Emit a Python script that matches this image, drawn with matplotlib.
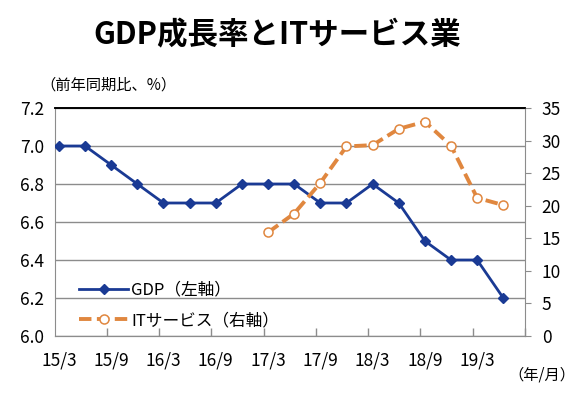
import matplotlib
matplotlib.use("Agg")
import matplotlib.pyplot as plt
import numpy as np

plt.rcParams['font.family'] = ['Noto Sans CJK JP', 'DejaVu Sans']

periods = ["15/3", "15/6", "15/9", "15/12", "16/3", "16/6", "16/9", "16/12",
           "17/3", "17/6", "17/9", "17/12", "18/3", "18/6", "18/9", "18/12",
           "19/3", "19/6"]
gdp = [7.0, 7.0, 6.9, 6.8, 6.7, 6.7, 6.7, 6.8, 6.8, 6.8, 6.7, 6.7, 6.8, 6.7,
       6.5, 6.4, 6.4, 6.2]
it_start = "17/3"
it_services = [15.9, 18.8, 23.5, 29.1, 29.3, 31.8, 32.9, 29.2, 21.2, 20.1]
tick_labels = ["15/3", "15/9", "16/3", "16/9", "17/3", "17/9", "18/3", "18/9", "19/3"]

x = np.arange(len(periods))
i0 = periods.index(it_start)
x_it = x[i0:i0 + len(it_services)]

fig = plt.figure(figsize=(5.82, 3.95), dpi=100)
ax = fig.add_axes([55/582, 1-336/395, 470/582, 228/395])
ax2 = ax.twinx()

blue = "#1A3A94"
orange = "#E0873F"

ax.set_ylim(6.0, 7.2)
ax.set_yticks(np.arange(6.0, 7.21, 0.2))
ax.set_yticklabels([f"{v:.1f}" for v in np.arange(6.0, 7.21, 0.2)], fontsize=12.5)
ax.set_xlim(-0.15, 17.15)
ax.grid(axis='y', color="#8C8C8C", lw=1.0)
ax.set_axisbelow(True)

l1, = ax.plot(x, gdp, color=blue, lw=2.0, marker='D', ms=5.5, zorder=3,
              label="GDP（左軸）")

ax2.set_ylim(0, 35)
ax2.set_yticks(np.arange(0, 36, 5))
ax2.set_yticklabels([str(v) for v in range(0, 36, 5)], fontsize=12.5)
l2, = ax2.plot(x_it, it_services, color=orange, lw=2.8, ls=(0, (3.2, 1.4)),
               marker='o', ms=6.5, mfc='white', mec=orange, mew=1.1, zorder=3,
               label="ITサービス（右軸）")

# x ticks: labels every 2 periods, small inward tick marks offset like the original
label_pos = [periods.index(t) for t in tick_labels]
ax.set_xticks(label_pos)
ax.set_xticklabels(tick_labels, fontsize=12.5)
ax.tick_params(axis='x', length=0, pad=11)
ax.set_xticks([p + 1.83 for p in label_pos], minor=True)
ax.tick_params(axis='x', which='minor', direction='in', length=6, width=1.0,
               color="#8C8C8C")
ax.tick_params(axis='y', length=0, pad=8)
ax2.tick_params(axis='y', length=4, color="#8C8C8C", pad=8)

for a in (ax, ax2):
    for s in ('left', 'right', 'bottom'):
        a.spines[s].set_color("#8C8C8C")
    a.spines['top'].set_color("black")
    a.spines['top'].set_linewidth(1.2)
ax2.spines['left'].set_visible(False)
ax.spines['right'].set_visible(False)

leg = ax.legend(handles=[l1, l2], loc='lower left', bbox_to_anchor=(0.02, -0.035),
                frameon=False, fontsize=12, handlelength=2.9, handletextpad=0.2,
                labelspacing=0.8)

fig.text(0.476, 0.91, "GDP成長率とITサービス業", ha='center', va='center',
         fontsize=22, fontweight='bold')
fig.text(40/582, 1-85/395, "（前年同期比、%）", ha='left', va='center', fontsize=11)
fig.text(575/582, 1-375/395, "（年/月）", ha='right', va='center', fontsize=11)

fig.savefig("out.png", dpi=100)
